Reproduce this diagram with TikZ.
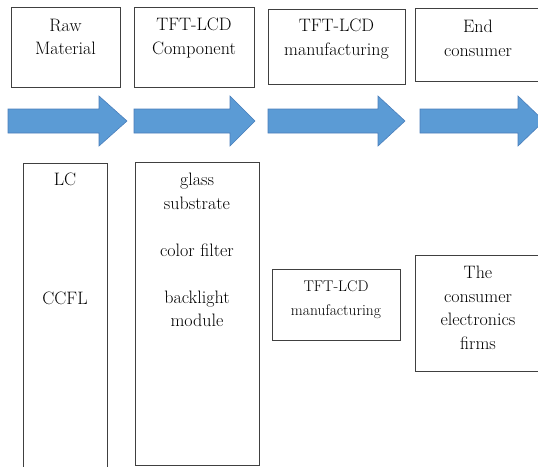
\documentclass[tikz,border=0pt]{standalone}
\usepackage{fontspec}
\usetikzlibrary{positioning}
\definecolor{arrowblue}{HTML}{5B9BD5}
\definecolor{arrowedge}{HTML}{4A7EBB}

\begin{document}
\begin{tikzpicture}[x=1pt, y=-1pt,
  stage/.style={draw=black!75, line width=0.8pt, inner sep=0pt, outer sep=0pt, anchor=north west},
  stagetext/.style={inner sep=0pt, outer sep=0pt, align=center, text=black, font=\fontsize{18}{23.6}\selectfont},
  flowarrow/.style={fill=arrowblue, draw=arrowedge, line width=0.6pt}]
  \useasboundingbox (0,0) rectangle (538,466);
  \clip (0,0) rectangle (538,466);

  % stages of the chain
  \node[stage, minimum width=109pt, minimum height=80pt] (raw) at (11,7) {};
  \node[stage, minimum width=120pt, minimum height=80pt] (comp) at (134,7) {};
  \node[stage, minimum width=137pt, minimum height=75pt] (manu) at (268,9) {};
  \node[stage, minimum width=126pt, minimum height=73pt] (endc) at (415,8) {};

  \node[stagetext, below=12pt of raw.north] (rawtxt) {Raw\\Material};
  \node[stagetext, below=11pt of comp.north] (comptxt) {TFT-LCD\\Component};
  \node[stagetext, below=10pt of manu.north] (manutxt) {TFT-LCD\\manufacturing};
  \node[stagetext, below=12pt of endc.north] (endctxt) {End\\consumer};

  % flow arrows
  \foreach \xa/\xb/\xc in {8/99/127, 134/230/255, 268/378/405, 420/518/544}
    \draw[flowarrow] (\xa,109) -- (\xb,109) -- (\xb,96) -- (\xc,121) -- (\xb,146) -- (\xb,133) -- (\xa,133) -- cycle;

  % members of each stage
  \node[stage, minimum width=84pt, minimum height=320pt] (lc) at (23,163) {};
  \node[stage, minimum width=124pt, minimum height=303pt] (parts) at (135,162) {};
  \node[stage, minimum width=128pt, minimum height=71pt] (fab) at (272,269) {};
  \node[stage, minimum width=126pt, minimum height=116pt] (firms) at (415,255) {};

  \node[stagetext, below=10pt of lc.north] (lctxt) {LC\\[95pt]CCFL};
  \node[stagetext, below=11pt of parts.north] (partstxt) {glass\\substrate\\[24pt]color filter\\[23pt]backlight\\module};
  \node[stagetext, below=12pt of fab.north, font=\fontsize{15.5}{24}\selectfont] (fabtxt) {TFT-LCD\\manufacturing};
  \node[stagetext, below=11pt of firms.north] (firmstxt) {The\\consumer\\electronics\\firms};

\end{tikzpicture}
\end{document}
